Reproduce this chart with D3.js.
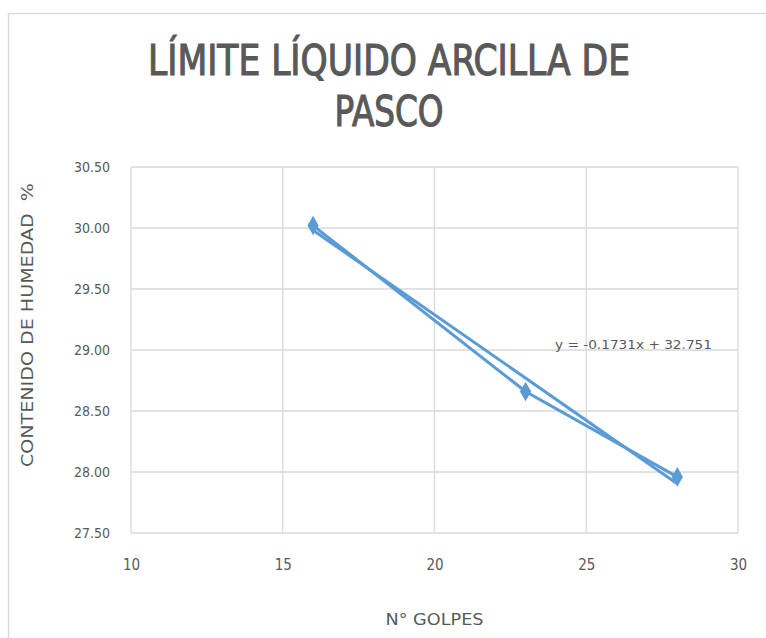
<!DOCTYPE html>
<html>
<head>
<meta charset="utf-8">
<script src="https://cdn.jsdelivr.net/npm/d3@7"></script>
<style>
  html, body { margin: 0; padding: 0; background: #fff; }
  svg { display: block; }
</style>
</head>
<body>
<script>
// Límite líquido – golpes vs. contenido de humedad
const golpes = [16, 23, 28];
const humedad = [30.02, 28.66, 27.96];
const yTicks = [27.5, 28.0, 28.5, 29.0, 29.5, 30.0, 30.5];
const xTicks = [10, 15, 20, 25, 30];
const titleLines = ["LÍMITE LÍQUIDO ARCILLA DE", "PASCO"];
const trend = { slope: -0.1731, intercept: 32.751, label: "y = -0.1731x + 32.751" };

const width = 766, height = 638;
const margin = { top: 167, right: 28, bottom: 105, left: 131 };
const font = "'DejaVu Sans Condensed', 'Liberation Sans Narrow', sans-serif";
const grey = "#595959";
const blue = "#5b9bd5";

const svg = d3.select("body").append("svg")
  .attr("width", width)
  .attr("height", height)
  .style("font-family", font);

// chart frame (cropped on right and bottom)
svg.append("path")
  .attr("d", `M8.5,${height} V13.5 H${width}`)
  .attr("fill", "none")
  .attr("stroke", "#d9d9d9")
  .attr("stroke-width", 1.5);

const x = d3.scaleLinear().domain([10, 30]).range([margin.left, width - margin.right]);
const y = d3.scaleLinear().domain([27.5, 30.5]).range([height - margin.bottom, margin.top]);

// title
const titleWidths = [482, 109];
svg.append("g")
  .selectAll("text")
  .data(titleLines)
  .join("text")
  .attr("x", 389)
  .attr("y", (d, i) => 75 + i * 51)
  .attr("text-anchor", "middle")
  .attr("fill", grey)
  .attr("stroke", grey)
  .attr("stroke-width", 1.1)
  .attr("textLength", (d, i) => titleWidths[i])
  .attr("lengthAdjust", "spacingAndGlyphs")
  .style("font-size", "42px")
  .text((d) => d);

// grid
const grid = svg.append("g").attr("stroke", "#d9d9d9").attr("stroke-width", 1.3);
grid.selectAll(".h").data(yTicks).join("line")
  .attr("x1", x(10)).attr("x2", x(30))
  .attr("y1", (d) => y(d)).attr("y2", (d) => y(d));
grid.selectAll(".v").data(xTicks).join("line")
  .attr("x1", (d) => x(d)).attr("x2", (d) => x(d))
  .attr("y1", y(27.5)).attr("y2", y(30.5));

// axes (labels only)
const yAxis = svg.append("g")
  .attr("transform", `translate(${x(10) - 18},0)`)
  .call(d3.axisLeft(y).tickValues(yTicks).tickFormat(d3.format(".2f")).tickSize(0));
yAxis.select(".domain").remove();
yAxis.selectAll("text")
  .attr("fill", grey)
  .style("font-family", font)
  .style("font-size", "14px");

const xAxis = svg.append("g")
  .attr("transform", `translate(0,${y(27.5) + 23})`)
  .call(d3.axisBottom(x).tickValues(xTicks).tickSize(0));
xAxis.select(".domain").remove();
xAxis.selectAll("text")
  .attr("fill", grey)
  .style("font-family", font)
  .style("font-size", "15px");

// axis titles
svg.append("text")
  .attr("x", (x(10) + x(30)) / 2)
  .attr("y", 625)
  .attr("text-anchor", "middle")
  .attr("fill", grey)
  .style("font-size", "15px")
  .attr("textLength", 98)
  .attr("lengthAdjust", "spacingAndGlyphs")
  .text("N° GOLPES");

svg.append("text")
  .attr("transform", `translate(33,325) rotate(-90)`)
  .attr("text-anchor", "middle")
  .attr("fill", grey)
  .style("font-size", "15px")
  .attr("textLength", 284)
  .attr("lengthAdjust", "spacingAndGlyphs")
  .style("white-space", "pre")
  .text("CONTENIDO DE HUMEDAD  %");

// data series
const pts = golpes.map((g, i) => [g, humedad[i]]);
svg.append("path")
  .datum(pts)
  .attr("fill", "none")
  .attr("stroke", blue)
  .attr("stroke-width", 3)
  .attr("d", d3.line().x((d) => x(d[0])).y((d) => y(d[1])));

// linear trendline
const xr = d3.extent(golpes);
svg.append("line")
  .attr("x1", x(xr[0])).attr("y1", y(trend.intercept + trend.slope * xr[0]))
  .attr("x2", x(xr[1])).attr("y2", y(trend.intercept + trend.slope * xr[1]))
  .attr("stroke", blue)
  .attr("stroke-width", 3);

svg.append("g")
  .selectAll("path")
  .data(pts)
  .join("path")
  .attr("transform", (d) => `translate(${x(d[0])},${y(d[1])})`)
  .attr("d", d3.symbol(d3.symbolDiamond, 110))
  .attr("fill", blue);

svg.append("text")
  .attr("x", 555)
  .attr("y", 349)
  .attr("fill", grey)
  .style("font-size", "13px")
  .attr("textLength", 157)
  .attr("lengthAdjust", "spacingAndGlyphs")
  .text(trend.label);
</script>
</body>
</html>
